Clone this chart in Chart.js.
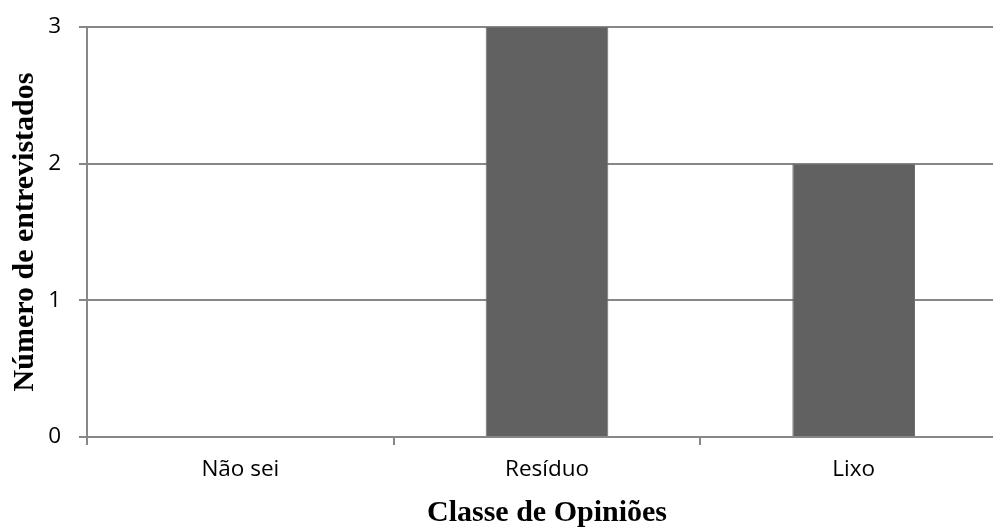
<!DOCTYPE html>
<html>
<head>
<meta charset="utf-8">
<script src="https://cdn.jsdelivr.net/npm/chart.js@4/dist/chart.umd.min.js"></script>
<style>
  html, body { margin: 0; padding: 0; background: #ffffff; overflow: hidden; }
  #wrap { position: relative; width: 1010px; height: 528px; }
</style>
</head>
<body>
<div id="wrap"><canvas id="chart"></canvas></div>
<script>
// Opinion classes and number of interviewees in each
const categories = ['Não sei', 'Resíduo', 'Lixo'];
const interviewees = [0, 3, 2];
const yTicks = [0, 1, 2, 3];

const axisGrey = '#878787';
const labelFont = { family: 'Open Sans', size: 22.5 };
const titleFont = { family: 'Liberation Serif', size: 30, weight: 'bold', lineHeight: 1.0 };

new Chart(document.getElementById('chart'), {
  type: 'bar',
  data: {
    labels: categories,
    datasets: [{
      data: interviewees,
      backgroundColor: '#616161',
      borderColor: '#6e6e6e',
      borderWidth: 1,
      categoryPercentage: 0.4,
      barPercentage: 1.0
    }]
  },
  options: {
    responsive: true,
    maintainAspectRatio: false,
    animation: false,
    layout: { padding: { top: 27, right: 3, bottom: 0, left: 0 } },
    plugins: { legend: { display: false }, tooltip: { enabled: false } },
    scales: {
      x: {
        grid: {
          offset: true,
          drawOnChartArea: false,
          drawTicks: true,
          tickLength: 8,
          tickColor: axisGrey,
          lineWidth: 2
        },
        border: { display: true, color: axisGrey, width: 2 },
        ticks: { color: '#000000', font: labelFont, padding: 11, maxRotation: 0 },
        title: {
          display: true,
          text: 'Classe de Opiniões',
          color: '#000000',
          font: titleFont,
          padding: { top: 0, bottom: 0 }
        },
        afterFit: (scale) => {
          scale.height = 91;
          scale.paddingLeft = 0;
          scale.paddingRight = 0;
        }
      },
      y: {
        min: 0,
        max: 3,
        afterBuildTicks: (scale) => { scale.ticks = yTicks.map(v => ({ value: v })); },
        grid: {
          color: axisGrey,
          lineWidth: 2,
          drawTicks: true,
          tickLength: 8,
          tickColor: axisGrey
        },
        border: { display: true, color: axisGrey, width: 2 },
        ticks: { color: '#000000', font: labelFont, padding: 18 },
        title: {
          display: true,
          text: 'Número de entrevistados',
          color: '#000000',
          font: titleFont,
          padding: { top: 10.5, bottom: 0 }
        },
        afterFit: (scale) => {
          scale.width = 87;
          scale.paddingTop = 0;
          scale.paddingBottom = 0;
        }
      }
    }
  }
});
</script>
</body>
</html>
